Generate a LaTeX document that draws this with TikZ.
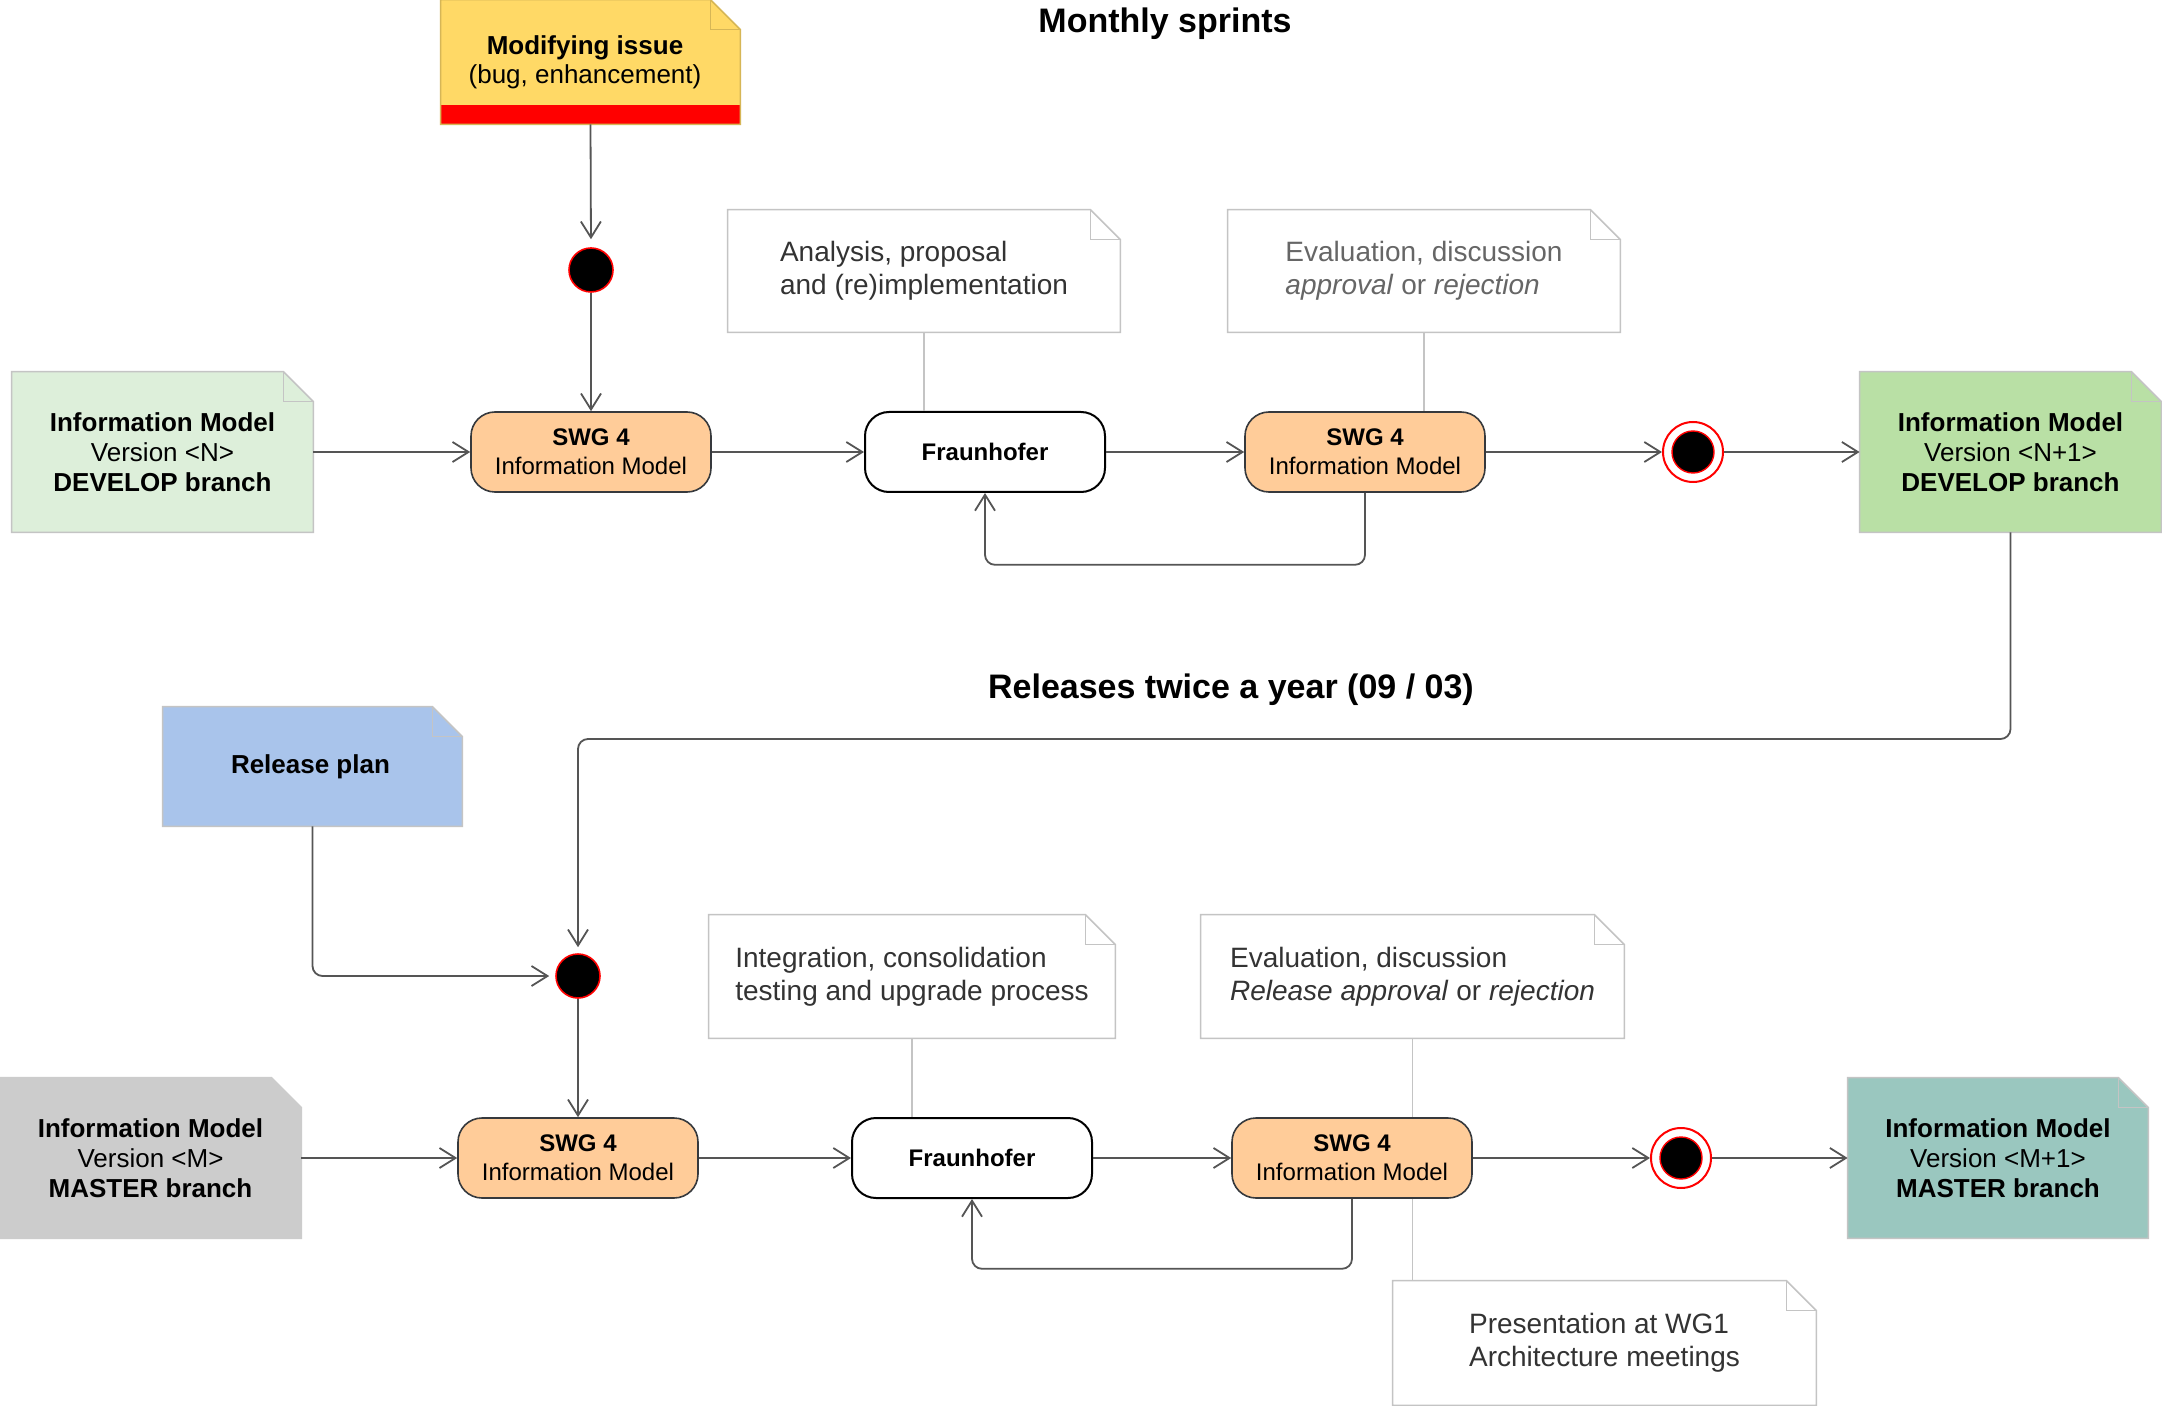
\documentclass[tikz,border=0pt]{standalone}
\usepackage{fontspec}
\setmainfont{Liberation Sans}
\usetikzlibrary{arrows.meta,calc}
\pgfdeclarelayer{bg}
\pgfsetlayers{bg,main}
\definecolor{arrowc}{HTML}{555555}
\definecolor{swgfill}{HTML}{FFCC99}
\definecolor{swgstroke}{HTML}{36393D}
\definecolor{notestroke}{HTML}{C4C4C4}
\definecolor{imnfill}{HTML}{DDEFDA}
\definecolor{imnonefill}{HTML}{B9E0A5}
\definecolor{immfill}{HTML}{CCCCCC}
\definecolor{immonefill}{HTML}{9AC7BF}
\definecolor{rpfill}{HTML}{A9C4EB}
\definecolor{modfill}{HTML}{FFD966}
\definecolor{modstroke}{HTML}{D6B656}
\definecolor{darktext}{HTML}{333333}
\definecolor{greytext}{HTML}{666666}
\newcommand{\notefold}[3]{%
  \begin{pgfonlayer}{bg}
  \filldraw[fill=#2,draw=#3,line width=0.8pt] (#1.south west) -- (#1.north west) -- ([xshift=-15pt]#1.north east) -- ([yshift=-15pt]#1.north east) -- (#1.south east) -- cycle;
  \draw[draw=#3,line width=0.8pt] ([xshift=-15pt]#1.north east) -- ([xshift=-15pt,yshift=-15pt]#1.north east) -- ([yshift=-15pt]#1.north east);
  \end{pgfonlayer}}
\begin{document}
\begin{tikzpicture}[x=0.5pt,y=-0.5pt,
  arr/.style={draw=arrowc, line width=0.9pt, rounded corners=5pt, -{Straight Barb[length=8pt,width=10pt,line width=0.9pt]}},
  cline/.style={draw=notestroke, line width=0.8pt},
  swg/.style={draw=swgstroke, fill=swgfill, rounded corners=12pt, minimum width=120pt, minimum height=40pt, line width=0.8pt, align=center, inner sep=0pt, font=\fontsize{12}{14.4}\selectfont},
  frn/.style={draw=black, fill=white, rounded corners=12pt, minimum width=120pt, minimum height=40pt, line width=1pt, align=center, inner sep=0pt, font=\fontsize{12}{14.4}\selectfont\bfseries},
  imnote/.style={minimum width=150.5pt, minimum height=80pt, inner sep=0pt, align=center, font=\fontsize{13}{15}\selectfont},
  cnote/.style={inner sep=0pt, align=left, text=darktext, font=\fontsize{14}{16.5}\selectfont},
  startc/.style={circle, fill=black, draw=red, line width=0.8pt, minimum size=22pt, inner sep=0pt},
  endc/.style={circle, fill=white, draw=red, line width=1pt, minimum size=30pt, inner sep=0pt,
    path picture={\filldraw[fill=black, draw=red, line width=0.7pt] (path picture bounding box.center) circle[radius=10.5pt];}},
  ttl/.style={font=\fontsize{17}{20}\selectfont\bfseries}
]
\useasboundingbox (0,0) rectangle (2162,1406);
\begin{pgfonlayer}{bg}
\fill[white] (0,0) rectangle (2162,1406);
\end{pgfonlayer}

% ---- top row ----
\node[ttl] (t1) at (1165,24) {Monthly sprints};

\node[imnote, minimum width=149.5pt, minimum height=62pt, font=\fontsize{13}{14.5}\selectfont] (mod) at (590.5,62) {\textbf{Modifying issue}\hspace*{5.5pt}\\(bug, enhancement)\hspace*{5.5pt}};
\begin{pgfonlayer}{bg}
\fill[modfill] (mod.south west) -- (mod.north west) -- ([xshift=-15pt]mod.north east) -- ([yshift=-15pt]mod.north east) -- (mod.south east) -- cycle;
\fill[red] (mod.south west) rectangle ([yshift=9.5pt]mod.south east);
\draw[modstroke,line width=0.8pt] (mod.south west) -- (mod.north west) -- ([xshift=-15pt]mod.north east) -- ([yshift=-15pt]mod.north east) -- (mod.south east) -- cycle;
\draw[modstroke,line width=0.8pt] ([xshift=-15pt]mod.north east) -- ([xshift=-15pt,yshift=-15pt]mod.north east) -- ([yshift=-15pt]mod.north east);
\end{pgfonlayer}

\node[startc] (s1) at (591,270) {};
\node[imnote] (imN) at (162.5,452) {\textbf{Information Model}\\Version <N>\\\textbf{DEVELOP branch}};
\notefold{imN}{imnfill}{notestroke}
\node[swg] (swg1) at (591,452) {\textbf{SWG 4}\\Information Model};
\node[frn] (fr1) at (985,452) {Fraunhofer};
\node[swg] (swg2) at (1365,452) {\textbf{SWG 4}\\Information Model};
\node[endc] (e1) at (1693,452) {};
\node[imnote] (imN1) at (2010.5,452) {\textbf{Information Model}\\Version <N+1>\\\textbf{DEVELOP branch}};
\notefold{imN1}{imnonefill}{notestroke}

\node[cnote, minimum width=196pt, minimum height=61pt] (an) at (924,271) {Analysis, proposal\\and (re)implementation};
\notefold{an}{white}{notestroke}
\node[cnote, text=greytext, minimum width=196pt, minimum height=61pt] (ev1) at (1424,271) {Evaluation, discussion\\\textit{approval} or \textit{rejection}};
\notefold{ev1}{white}{notestroke}

\draw[arr, shorten >=4pt] (mod.south) -- (s1.north);
\draw[arr] (s1.south) -- (swg1.north);
\draw[arr] (imN.east) -- (swg1.west);
\draw[arr] (swg1.east) -- (fr1.west);
\draw[arr] (fr1.east) -- (swg2.west);
\draw[arr] (swg2.east) -- (e1.west);
\draw[arr] (e1.east) -- (imN1.west);
\draw[arr] (swg2.south) -- ++(0,72) -| (fr1.south);
\draw[cline] (an.south) -- (fr1.north -| an.south);
\draw[cline] (ev1.south) -- (swg2.north -| ev1.south);

% ---- bottom row ----
\node[ttl] (t2) at (1231,690) {Releases twice a year (09 / 03)};
\coordinate (r1) at (578,739);
\node[imnote, minimum width=149.5pt, minimum height=59.5pt] (rp) at (312.5,766.5) {\textbf{Release plan}\hspace*{2pt}};
\notefold{rp}{rpfill}{notestroke}
\node[startc] (s2) at (578,976) {};
\node[imnote] (imM) at (150.5,1158) {\textbf{Information Model}\\Version <M>\\\textbf{MASTER branch}};
\notefold{imM}{immfill}{immfill}
\node[swg] (swg3) at (578,1158) {\textbf{SWG 4}\\Information Model};
\node[frn] (fr2) at (972,1158) {Fraunhofer};
\node[swg] (swg4) at (1352,1158) {\textbf{SWG 4}\\Information Model};
\node[endc] (e2) at (1681,1158) {};
\node[imnote, minimum width=150pt] (imM1) at (1998,1158) {\textbf{Information Model}\\Version <M+1>\\\textbf{MASTER branch}};
\notefold{imM1}{immonefill}{notestroke}

\node[cnote, minimum width=203pt, minimum height=61.5pt] (in) at (912,976.5) {Integration, consolidation\\testing and upgrade process};
\notefold{in}{white}{notestroke}
\node[cnote, minimum width=211.5pt, minimum height=61.5pt] (ev2) at (1412.5,976.5) {Evaluation, discussion\\\textit{Release approval} or \textit{rejection}};
\notefold{ev2}{white}{notestroke}
\node[cnote, minimum width=211.5pt, minimum height=62pt] (pres) at (1604.5,1343) {Presentation at WG1\\Architecture meetings};
\notefold{pres}{white}{notestroke}

\draw[arr, shorten >=3pt] (imN1.south) |- (r1) -- (s2.north);
\draw[arr, shorten >=3pt] (rp.south) |- (s2.west);
\draw[arr] (s2.south) -- (swg3.north);
\draw[arr] (imM.east) -- (swg3.west);
\draw[arr] (swg3.east) -- (fr2.west);
\draw[arr] (fr2.east) -- (swg4.west);
\draw[arr] (swg4.east) -- (e2.west);
\draw[arr] (e2.east) -- (imM1.west);
\draw[arr] (swg4.south) -- ++(0,70) -| (fr2.south);
\draw[cline] (in.south) -- (fr2.north -| in.south);
\draw[cline] (ev2.south) -- (swg4.north -| ev2.south);
\draw[cline] (swg4.south -| ev2.south) -- (pres.north -| ev2.south);
\end{tikzpicture}
\end{document}
